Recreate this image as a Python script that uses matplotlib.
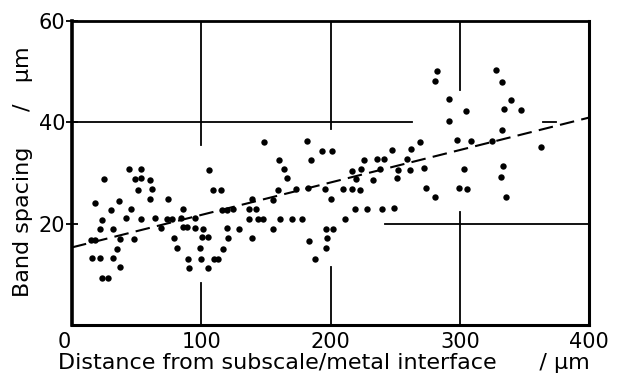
import matplotlib
matplotlib.use("Agg")
import matplotlib.pyplot as plt
import matplotlib.transforms as mtransforms

# distance from subscale/metal interface (um) and band spacing (um)
distance = [15, 18, 15.5, 21.5, 23, 28, 22, 23, 18, 25, 30, 32, 31.5, 35, 37,
            37, 36, 41.5, 45.5, 44, 53.5, 48.5, 53.5, 51, 48, 53, 60, 61.5, 60.5, 64,
            68.5, 74, 73.5, 77.5, 78.5, 81.5, 85.5, 84.5, 85.5, 89, 90, 90.5, 95.5, 95, 99,
            100, 101.5, 100.5, 105.5, 105.5, 106, 109, 115, 110, 113, 116.5, 116, 119.5, 119.5, 121,
            124.5, 129, 139, 137, 142, 137, 144, 147.5, 139.5, 148.5, 155.5, 155.5, 159, 160, 164,
            166, 160.5, 170, 173, 178, 182.5, 181.5, 183, 185, 193, 201, 188, 196, 200.5,
            196.5, 201.5, 197, 196.5, 211, 209.5, 216.5, 222.5, 219.5, 216.5, 223.5, 225.5, 218.5, 228,
            232.5, 235.5, 241.5, 238.5, 240, 247.5, 249, 251, 252, 259, 261, 262.5, 269, 272.5,
            274, 281, 282, 281, 291.5, 291.5, 298, 304.5, 308.5, 303, 299.5, 305.5, 325, 328,
            332.5, 339.5, 334, 347.5, 332.5, 333.5, 332, 335.5, 363]
spacing = [16.8, 16.8, 13.2, 13.2, 9.2, 9.2, 18.9, 20.7, 24.0, 28.8, 22.6, 18.9, 13.2, 14.9, 11.4,
           16.9, 24.4, 21.0, 22.9, 30.8, 30.8, 28.8, 29.0, 26.7, 17.0, 20.9, 28.6, 26.8, 24.8, 21.1,
           19.1, 24.8, 20.8, 20.8, 17.2, 15.1, 22.8, 21.0, 19.4, 19.3, 13.0, 11.3, 21.0, 19.2, 15.1,
           13.1, 19.0, 17.3, 17.3, 11.2, 30.6, 26.6, 26.6, 13.1, 13.1, 14.9, 22.7, 22.7, 19.2, 17.1,
           22.8, 19.0, 24.8, 22.8, 22.8, 20.8, 20.8, 20.8, 17.2, 36.1, 24.6, 19.0, 26.6, 32.6, 30.7,
           28.9, 20.8, 20.8, 26.8, 20.8, 27.0, 36.3, 16.6, 32.5, 34.4, 34.4, 13.1, 26.9, 24.8,
           18.9, 18.9, 17.1, 15.1, 20.8, 26.8, 26.8, 26.7, 28.8, 30.4, 30.7, 32.6, 22.9, 22.9,
           28.5, 32.8, 32.8, 30.7, 22.9, 34.5, 23.0, 29.0, 30.5, 32.8, 30.6, 34.7, 36.1, 30.9,
           27.1, 25.2, 50.0, 48.2, 44.5, 40.2, 36.4, 42.1, 36.3, 30.8, 27.1, 26.9, 36.3, 50.3,
           48.0, 44.4, 42.5, 42.4, 38.4, 31.3, 29.1, 25.2, 35.0]

# least-squares line as drawn in the figure
fit_x = [0, 400]
fit_y = [15.3, 40.9]

# broken grid segments of the original print: (x0, x1, y0, y1)
grid_segments = [
    (100, 100, 35.4, 60), (100, 100, 0, 8.3),
    (200, 200, 38.6, 60), (200, 200, 0, 11.4),
    (300, 300, 46.4, 60), (300, 300, 0, 22.2),
    (0, 263, 40, 40), (364, 374, 40, 40),
    (242, 400, 20, 20),
]

fig = plt.figure(figsize=(6.18, 3.79), dpi=100)
ax = fig.add_axes([0.1165, 0.1425, 0.837, 0.803])

for x0, x1, y0, y1 in grid_segments:
    ax.plot([x0, x1], [y0, y1], color="black", lw=1.3, zorder=1)

ax.plot(fit_x, fit_y, color="black", lw=1.5, dashes=(7, 3.5), zorder=2)
ax.plot(distance, spacing, "o", color="black", ms=4.6, mec="none", zorder=3)

ax.set_xlim(0, 400)
ax.set_ylim(0, 60)
ax.set_xticks([0, 100, 200, 300, 400])
ax.set_yticks([20, 40, 60])
ax.tick_params(axis="x", length=0, pad=5, labelsize=15)
ax.tick_params(axis="y", direction="inout", length=8, width=1.3, pad=1, labelsize=15)

# the "0" of the x axis sits a little left of the origin
lbl0 = ax.get_xticklabels()[0]
lbl0.set_transform(lbl0.get_transform() + mtransforms.ScaledTranslation(-8 / 100, 0, fig.dpi_scale_trans))

for side, w in [("left", 2.6), ("bottom", 2.2), ("top", 2.0), ("right", 2.2)]:
    ax.spines[side].set_linewidth(w)

ax.set_xlabel("Distance from subscale/metal interface      / \u00b5m", fontsize=16)
ax.xaxis.set_label_coords(0.486, -0.093)
ax.set_ylabel("Band spacing     /   \u00b5m", fontsize=16)
ax.yaxis.set_label_coords(-0.075, 0.505)

fig.savefig("out.png", dpi=100)
